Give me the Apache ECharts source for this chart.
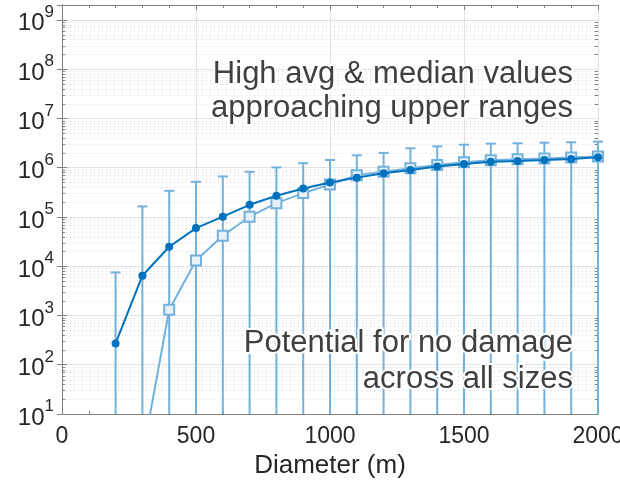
<!DOCTYPE html>
<html><head><meta charset="utf-8">
<script src="https://cdn.jsdelivr.net/npm/echarts@6/dist/echarts.min.js"></script>
<style>html,body{margin:0;padding:0;background:#fff}#c{width:620px;height:487px}</style>
</head><body><div id="c"></div>
<script>
const diameters = [200,300,400,500,600,700,800,900,1000,1100,1200,1300,1400,1500,1600,1700,1800,1900,2000];
const avgValues = [271,6400,24800,59300,101000,176000,269000,378000,500000,627000,770000,898000,1050000,1190000,1310000,1370000,1430000,1500000,1620000];
const medianValues = [null,1.4,1306,13100,41400,101000,190000,304000,455000,700000,830000,970000,1130000,1290000,1410000,1480000,1540000,1600000,1690000];
const upperValues = [7480,163000,339000,516000,662000,824000,1010000,1230000,1430000,1780000,1990000,2470000,2700000,2930000,3070000,3120000,3210000,3270000,3370000];
const lowerValues = [0,0,0,0,0,0,0,0,0,0,0,0,0,0,0,0,0,0,0];
const xTicks = [0,500,1000,1500,2000];
const yDecades = [1,2,3,4,5,6,7,8,9];
const noteTop = ['High avg & median values','approaching upper ranges'];
const noteBottom = ['Potential for no damage','across all sizes'];
const xTitle = 'Diameter (m)';

const DARK = '#0072BD', LIGHT = '#72b1dc', AXIS = '#7f7f7f', TXT = '#262626';
const FONT = '"Liberation Sans", Arial, Helvetica, sans-serif';

const minorVals = [];
yDecades.slice(0, -1).forEach(e => { for (let m = 2; m <= 9; m++) minorVals.push([0, m * Math.pow(10, e)]); });

const chart = echarts.init(document.getElementById('c'), null, {renderer: 'canvas'});

function supLabel(v) {
  const e = Math.round(Math.log10(v));
  if (Math.abs(Math.pow(10, e) - v) / v > 1e-6) return '';
  return '{b|10}{s|' + e + '}';
}

const noteStyle = (t, y) => ({
  type: 'text', x: 573, y: y, z: 100,
  style: {text: t, fill: '#404040', font: '31px ' + FONT, align: 'right', verticalAlign: 'middle',
    textAlign: 'right', textVerticalAlign: 'middle', stroke: '#ffffff', lineWidth: 4}
});

const option = {
  animation: false,
  backgroundColor: '#fff',
  grid: {left: 62, right: 22, top: 5, bottom: 73, containLabel: false, outerBoundsMode: 'none'},
  xAxis: [{
    type: 'value', min: 0, max: 2000, interval: 500, position: 'bottom',
    name: xTitle, nameLocation: 'middle', nameGap: 39,
    nameTextStyle: {color: TXT, fontSize: 26, fontFamily: FONT},
    axisLine: {show: true, lineStyle: {color: AXIS, width: 1}},
    axisTick: {show: true, inside: true, length: 5, lineStyle: {color: AXIS}},
    minorTick: {show: true, splitNumber: 5, length: 3, lineStyle: {color: AXIS}},
    axisLabel: {color: TXT, fontSize: 23, fontFamily: FONT, margin: 11, showMaxLabel: true, hideOverlap: false,
      formatter: v => String(v)},
    splitLine: {show: true, lineStyle: {color: '#e2e2e2', width: 1}}
  }, {
    type: 'value', min: 0, max: 2000, interval: 500, position: 'top',
    axisLine: {show: true, lineStyle: {color: AXIS, width: 1}},
    axisTick: {show: true, inside: true, length: 5, lineStyle: {color: AXIS}},
    minorTick: {show: true, splitNumber: 5, length: 3, lineStyle: {color: AXIS}},
    axisLabel: {show: false}, splitLine: {show: false}
  }],
  yAxis: [{
    type: 'log', logBase: 10, min: 10, max: 2e9, splitNumber: 8, position: 'left',
    axisLine: {show: true, lineStyle: {color: AXIS, width: 1}},
    axisTick: {show: true, inside: true, length: 5, lineStyle: {color: AXIS}},
    axisLabel: {
      margin: 8, formatter: supLabel, showMaxLabel: false,
      rich: {
        b: {fontSize: 24, fontFamily: FONT, color: TXT, lineHeight: 32, verticalAlign: 'bottom'},
        s: {fontSize: 17, fontFamily: FONT, color: TXT, lineHeight: 17, verticalAlign: 'top'}
      }
    },
    splitLine: {show: true, lineStyle: {color: '#e2e2e2', width: 1}}
  }, {
    type: 'log', logBase: 10, min: 10, max: 2e9, splitNumber: 8, position: 'right',
    axisLine: {show: true, lineStyle: {color: AXIS, width: 1}},
    axisTick: {show: true, inside: true, length: 5, lineStyle: {color: AXIS}},
    axisLabel: {show: false}, splitLine: {show: false}
  }],
  graphic: [
    noteStyle(noteTop[0], 74), noteStyle(noteTop[1], 108),
    noteStyle(noteBottom[0], 343), noteStyle(noteBottom[1], 379)
  ],
  series: [{
    type: 'custom', name: 'minorGrid', coordinateSystem: 'cartesian2d', silent: true, z: 0,
    data: minorVals, encode: {x: 0, y: 1},
    renderItem: function (params, api) {
      const cs = params.coordSys;
      const y = Math.round(api.coord([0, api.value(1)])[1]) + 0.5;
      return {type: 'group', children: [
        {type: 'line', shape: {x1: cs.x, y1: y, x2: cs.x + cs.width, y2: y}, style: {stroke: '#d6d6d6', lineWidth: 1, lineDash: [1, 3]}},
        {type: 'line', shape: {x1: cs.x, y1: y, x2: cs.x + 3, y2: y}, style: {stroke: AXIS, lineWidth: 1}},
        {type: 'line', shape: {x1: cs.x + cs.width - 3, y1: y, x2: cs.x + cs.width, y2: y}, style: {stroke: AXIS, lineWidth: 1}}
      ]};
    }
  }, {
    type: 'custom', name: 'range', coordinateSystem: 'cartesian2d', z: 3,
    data: diameters.map((d, i) => [d, upperValues[i], lowerValues[i]]),
    encode: {x: 0, y: 1},
    renderItem: function (params, api) {
      const cs = params.coordSys;
      const x = api.value(0), hi = api.value(1), lo = api.value(2);
      const top = api.coord([x, hi]);
      const bottomEdge = cs.y + cs.height;
      let yb = lo > 0 ? api.coord([x, lo])[1] : bottomEdge;
      yb = Math.min(yb, bottomEdge);
      return {type: 'group', children: [
        {type: 'line', shape: {x1: top[0], y1: top[1], x2: top[0], y2: yb}, style: {stroke: LIGHT, lineWidth: 2}},
        {type: 'line', shape: {x1: top[0] - 5, y1: top[1], x2: top[0] + 5, y2: top[1]}, style: {stroke: LIGHT, lineWidth: 2}}
      ]};
    }
  }, {
    type: 'line', name: 'median', z: 4, clip: true,
    data: diameters.map((d, i) => [d, medianValues[i]]),
    symbol: 'rect', symbolSize: 10, connectNulls: false,
    lineStyle: {color: LIGHT, width: 2},
    itemStyle: {color: '#e6f1fa', borderColor: LIGHT, borderWidth: 2}
  }, {
    type: 'line', name: 'avg', z: 5, clip: true,
    data: diameters.map((d, i) => [d, avgValues[i]]),
    symbol: 'circle', symbolSize: 8,
    lineStyle: {color: DARK, width: 2},
    itemStyle: {color: DARK}
  }]
};
chart.setOption(option);
</script>
</body></html>
